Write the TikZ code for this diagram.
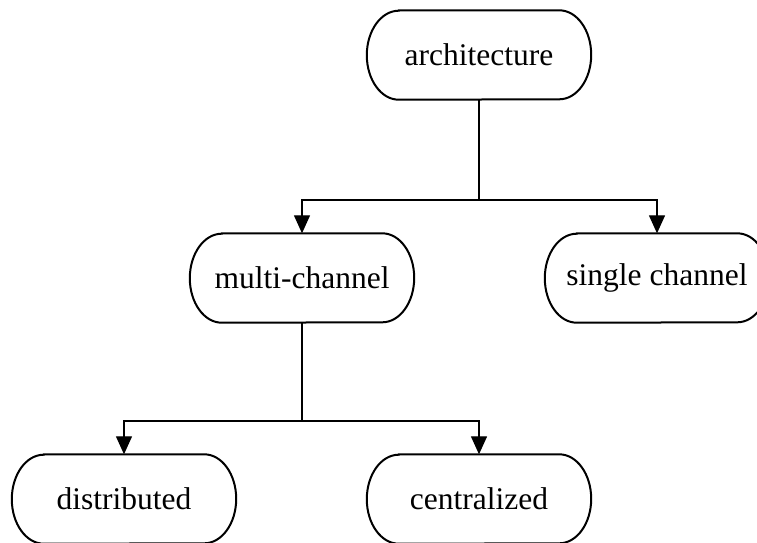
\documentclass[tikz,border=0pt]{standalone}
\usepackage{fontspec}
\setmainfont{Liberation Serif}
\usetikzlibrary{arrows.meta}

\tikzset{
  box/.style={minimum width=224pt, minimum height=89pt, inner sep=0pt,
              font=\fontsize{31.5}{36}\selectfont},
  outline/.style={line width=2pt},
  link/.style={line width=1.3pt},
  arrow/.style={link, -{Triangle[length=18pt,width=16pt]}},
}

\begin{document}
\begin{tikzpicture}[x=1pt, y=-1pt]
  \useasboundingbox (0,0) rectangle (757,542);
  \clip (0,0) rectangle (757,542);

  % nodes of the classification tree
  \node[box] (arch)   at (479,55)  {architecture};
  \node[box] (multi)  at (302,278) {multi-channel};
  \node[box] (single) at (657,278) {single channel};
  \node[box] (dist)   at (124,499) {distributed};
  \node[box] (cent)   at (479,499) {centralized};

  % capsule outlines with elliptic ends
  \foreach \n in {arch,multi,single,dist,cent}{
    \draw[outline]
      ([xshift=32pt]\n.north west) -- ([xshift=-32pt]\n.north east)
      arc[start angle=90, end angle=-90, x radius=32pt, y radius=44.5pt]
      -- ([xshift=32pt]\n.south west)
      arc[start angle=270, end angle=90, x radius=32pt, y radius=44.5pt]
      -- cycle;
  }

  % branching points
  \coordinate (j1) at (arch.south |- 0,200);
  \coordinate (j2) at (multi.south |- 0,421);

  % connectors
  \draw[link] (arch.south) -- (j1);
  \draw[arrow] (j1) -| (multi.north);
  \draw[arrow] (j1) -| (single.north);

  \draw[link] (multi.south) -- (j2);
  \draw[arrow] (j2) -| (dist.north);
  \draw[arrow] (j2) -| (cent.north);
\end{tikzpicture}
\end{document}
